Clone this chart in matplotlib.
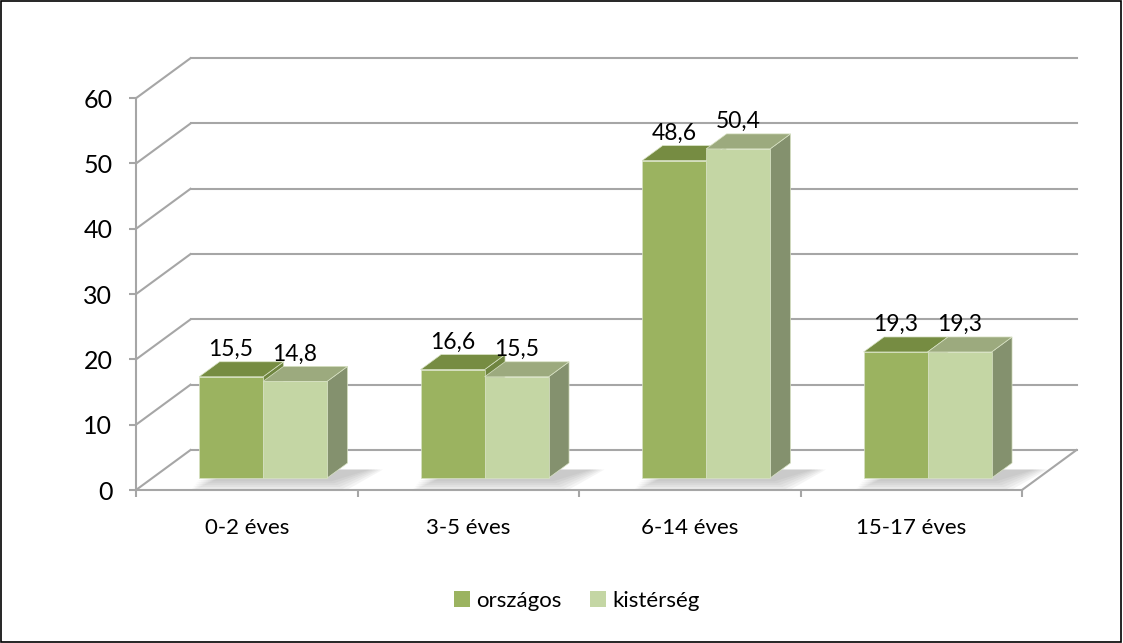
import matplotlib
matplotlib.use("Agg")
import matplotlib.pyplot as plt
from matplotlib.patches import Polygon, Patch, Rectangle

# === Datos ===
categorias = ["0-2 éves", "3-5 éves", "6-14 éves", "15-17 éves"]
orszagos = [15.5, 16.6, 48.6, 19.3]
kisterseg = [14.8, 15.5, 50.4, 19.3]
series_nombres = ["országos", "kistérség"]
y_ticks = [0, 10, 20, 30, 40, 50, 60]

# === Colores ===
frente = ["#9BB360", "#C4D6A4"]
techo = ["#768C42", "#9CAA7E"]
lado = ["#6F8540", "#84916E"]
gris = "#A6A6A6"

# geometria de la proyeccion (unidades de datos)
PX_CAT = 221.5     # px por categoria
PX_VAL = 6.53      # px por unidad de valor
DX = 54.5 / PX_CAT  # profundidad total en x
DY = 40.0 / PX_VAL  # profundidad total en y
ANCHO = 0.289
D0, D1 = 0.30, 0.675  # profundidad de las barras

W, H = 1123, 643
fig = plt.figure(figsize=(W / 100, H / 100), dpi=100)
ax = fig.add_axes([0, 0, 1, 1])
ax.set_xlim(-136 / PX_CAT, (W - 136) / PX_CAT)
ax.set_ylim(-(H - 490) / PX_VAL, 490 / PX_VAL)

plt.rcParams["font.family"] = ["Lato", "DejaVu Sans"]
FS_TICK = 18
FS_CAT = 16
FS_VAL = 16.5
FS_LEG = 16

n = len(categorias)

# paredes: lineas de la cuadricula
for v in y_ticks:
    ax.plot([0 + DX, n + DX], [v + DY, v + DY], color=gris, lw=1.5, zorder=1)
    ax.plot([0, DX], [v, v + DY], color=gris, lw=1.5, zorder=1)
ax.plot([n, n + DX], [0, DY], color=gris, lw=1.5, zorder=1)


def cara(pts, color, z):
    ax.add_patch(Polygon(pts, closed=True, facecolor=color,
                         edgecolor="#D8E2C4", lw=0.5, zorder=z))


# sombras y barras
for i in range(n):
    for k, vals in enumerate([orszagos, kisterseg]):
        v = vals[i]
        x0 = i + 0.5 - ANCHO + k * ANCHO
        x1 = x0 + ANCHO
        fx0, fy0 = D0 * DX, D0 * DY
        bx, by = D1 * DX, D1 * DY
        # sombra suave
        if k == 1:
            for s in range(6):
                e = 0.02 + s * 0.012
                ax.add_patch(Polygon(
                    [(x0 - ANCHO + fx0 - e * 0.5, fy0 - e * 25),
                     (x1 + fx0 + e, fy0 - e * 25),
                     (x1 + bx + 0.08 + e, by - 1.0),
                     (x0 - ANCHO + bx + 0.08, by - 1.0)],
                    closed=True, facecolor="#707070", edgecolor="none",
                    alpha=0.07, zorder=2))
        z = 3 + i * 2 + k
        # lado
        cara([(x1 + fx0, fy0), (x1 + bx, by), (x1 + bx, v + by),
              (x1 + fx0, v + fy0)], lado[k], z)
        # techo
        cara([(x0 + fx0, v + fy0), (x1 + fx0, v + fy0), (x1 + bx, v + by),
              (x0 + bx, v + by)], techo[k], z)
        # frente
        ax.bar(x0 + fx0, v, width=ANCHO, bottom=fy0, align="edge",
               color=frente[k], edgecolor="#D8E2C4", lw=0.5, zorder=z)
        ax.annotate(f"{v:.1f}".replace(".", ","),
                    ((x0 + x1) / 2 + fx0, v + by), xytext=(0, 6),
                    textcoords="offset pixels", ha="center", va="baseline",
                    fontsize=FS_VAL, color="black", zorder=20)

# ejes
for s in ["top", "right"]:
    ax.spines[s].set_visible(False)
ax.spines["left"].set_position(("data", 0))
ax.spines["bottom"].set_position(("data", 0))
ax.spines["left"].set_bounds(0, 60)
ax.spines["bottom"].set_bounds(0, n)
for s in ["left", "bottom"]:
    ax.spines[s].set_color(gris)
    ax.spines[s].set_linewidth(1.5)
ax.set_yticks(y_ticks)
ax.set_yticklabels([str(t) for t in y_ticks], fontsize=FS_TICK)
ax.set_xticks(range(n + 1))
ax.set_xticklabels([""] * (n + 1))
ax.set_xticks([i + 0.5 for i in range(n)], minor=True)
ax.set_xticklabels(categorias, minor=True, fontsize=FS_CAT)
ax.tick_params(axis="both", which="major", direction="out", length=5,
               width=1.5, color=gris)
ax.tick_params(axis="y", pad=12)
ax.tick_params(axis="x", which="minor", length=0, pad=20)

# leyenda
handles = [Patch(facecolor=frente[0], edgecolor="none"),
           Patch(facecolor=frente[1], edgecolor="none")]
fig.legend(handles, series_nombres, loc="center", ncol=2,
           bbox_to_anchor=(577 / W, 1 - 601 / H), frameon=False,
           fontsize=FS_LEG, handlelength=0.7, handleheight=0.7,
           handletextpad=0.3, columnspacing=1.3)

# borde
fig.add_artist(Rectangle((0.0005, 0.001), 0.998, 0.997,
                         transform=fig.transFigure, fill=False,
                         edgecolor="black", lw=1.2))

plt.savefig("out.png", dpi=100)
